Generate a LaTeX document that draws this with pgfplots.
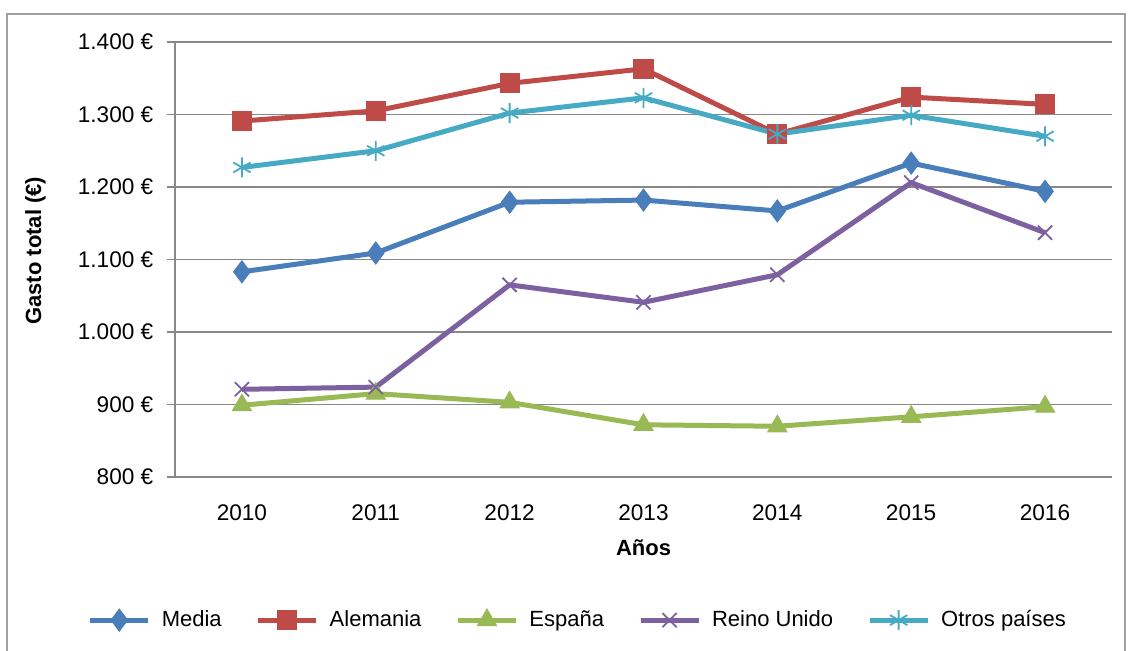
\documentclass[border=0pt]{standalone}
\usepackage{pgfplots}
\pgfplotsset{compat=1.18}
\usepackage{fontspec}
\setmainfont{Liberation Sans}
\definecolor{cMedia}{HTML}{4A7EBB}
\definecolor{cAle}{HTML}{BE4B48}
\definecolor{cEsp}{HTML}{98B954}
\definecolor{cRU}{HTML}{7D60A0}
\definecolor{cOtros}{HTML}{46AAC5}
\definecolor{cGrid}{HTML}{888888}
\begin{document}
\fontsize{11}{13}\selectfont
\begin{tikzpicture}
\path[use as bounding box] (0,0) rectangle (565pt,325pt);
\draw[color=cGrid!80, line width=0.8pt] (3.5pt,-10pt) -- (3.5pt,318pt) -- (562.5pt,318pt) -- (562.5pt,-10pt);
\begin{axis}[
  at={(87.5pt,86.5pt)}, anchor=south west,
  scale only axis, width=468.5pt, height=217.5pt,
  xmin=2009.5, xmax=2016.5, ymin=800, ymax=1400,
  ytick={800,900,...,1400},
  xtick={2010,...,2016},
  xticklabels={2010,2011,2012,2013,2014,2015,2016},
  minor xtick={2009.5,2010.5,...,2016.5},
  axis lines=left, axis line style={cGrid, line width=0.8pt, -},
  ymajorgrids, major grid style={cGrid, line width=0.8pt},
  tick style={cGrid, line width=0.8pt},
  tick align=outside,
  major tick length=4pt, minor tick length=4pt,
  xtick style={draw=none},
  minor x tick style={cGrid, line width=0.8pt},
  /pgf/number format/assume math mode=true,
  /pgf/number format/1000 sep={.},
  yticklabel={\pgfmathprintnumber{\tick}~€},
  yticklabel style={xshift=-3pt},
  xticklabel style={yshift=-6pt},
  tick label style={font=\fontsize{11.3}{13}\selectfont},
  xlabel={\bfseries Años},
  ylabel={\bfseries Gasto total (€)},
  xlabel style={at={(axis description cs:0.5,-0.163)}, anchor=center},
  ylabel style={at={(axis description cs:-0.149,0.52)}, anchor=center},
  legend columns=5,
  legend style={at={(0.431,-0.329)}, anchor=center, draw=none, fill=none,
    font=\fontsize{11}{13}\selectfont,
    /tikz/every odd column/.append style={column sep=3.5pt},
    /tikz/every even column/.append style={column sep=15pt}},
  legend image code/.code={\draw[mark repeat=2,mark phase=2,#1] plot coordinates {(0pt,0pt) (14.5pt,0pt) (29pt,0pt)};},
  every axis plot/.append style={line width=2.5pt},
]
\addplot[color=cMedia, mark=diamond*, mark size=5.5pt, mark options={solid, line width=0.5pt}] coordinates {
(2010,1083) (2011,1109) (2012,1179) (2013,1182) (2014,1167) (2015,1233) (2016,1194)};
\addlegendentry{Media}
\addplot[color=cAle, mark=square*, mark size=4.8pt, mark options={solid, line width=0.5pt}] coordinates {
(2010,1291) (2011,1305) (2012,1343) (2013,1363) (2014,1273) (2015,1324) (2016,1314)};
\addlegendentry{Alemania}
\addplot[color=cEsp, mark=triangle*, mark size=5.5pt, mark options={solid, line width=0.5pt}] coordinates {
(2010,899) (2011,915) (2012,903) (2013,872) (2014,870) (2015,883) (2016,897)};
\addlegendentry{España}
\addplot[color=cRU, mark=x, mark size=5pt, mark options={solid, line width=0.9pt}] coordinates {
(2010,921) (2011,924) (2012,1065) (2013,1041) (2014,1079) (2015,1206) (2016,1137)};
\addlegendentry{Reino Unido}
\addplot[color=cOtros, mark=asterisk, mark size=5pt, mark options={solid, line width=0.9pt}] coordinates {
(2010,1227) (2011,1250) (2012,1302) (2013,1323) (2014,1273) (2015,1299) (2016,1270)};
\addlegendentry{Otros países}
\end{axis}
\end{tikzpicture}
\end{document}
